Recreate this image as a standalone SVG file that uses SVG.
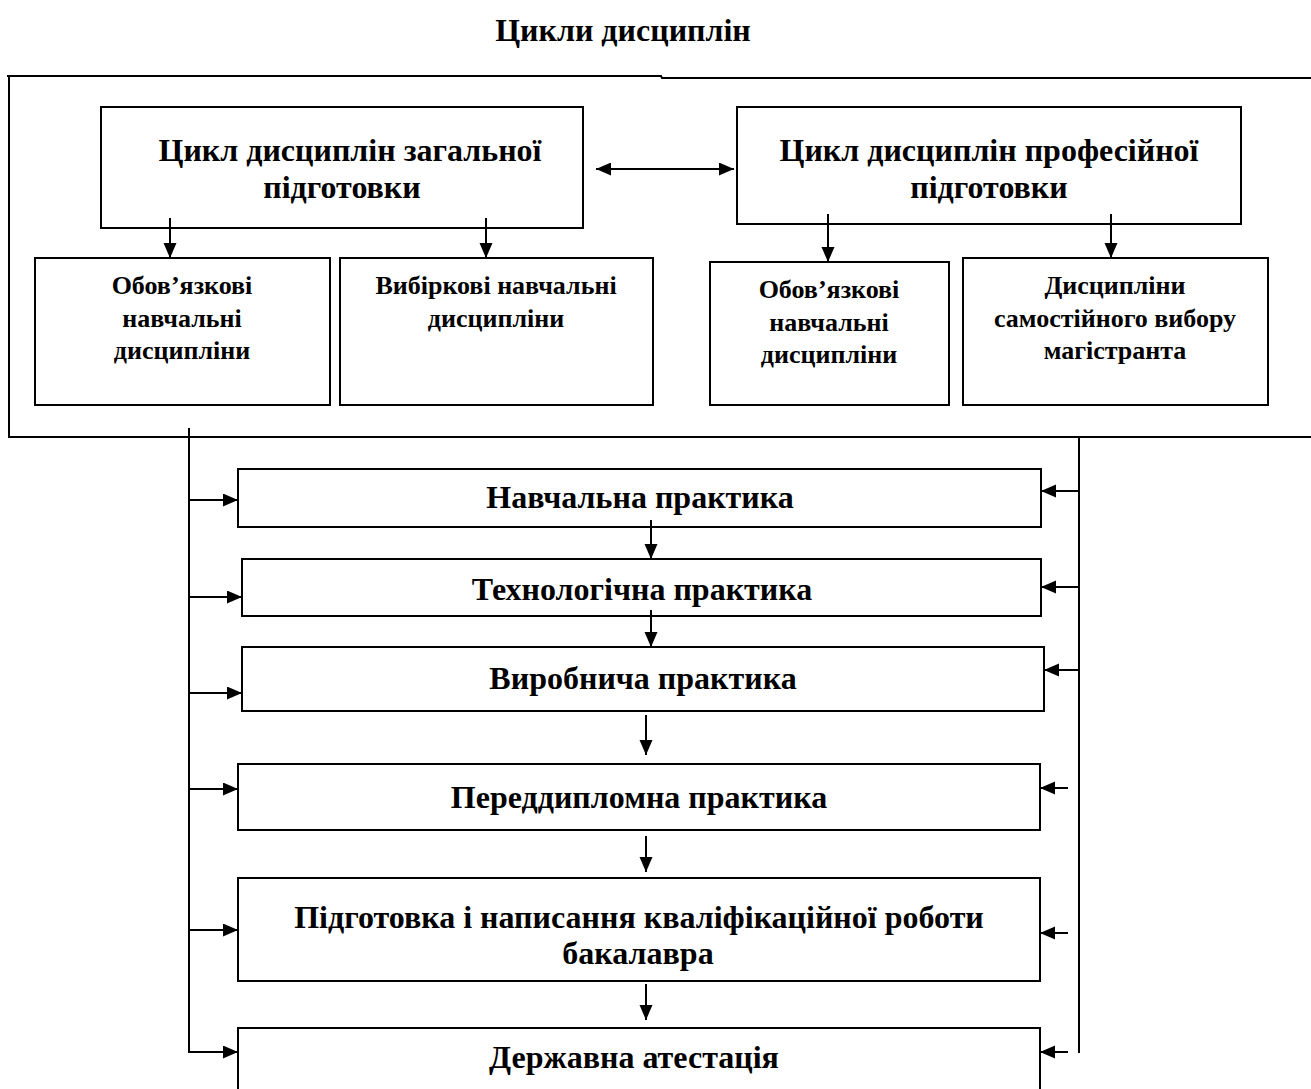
<svg xmlns="http://www.w3.org/2000/svg" width="1311" height="1089" viewBox="0 0 1311 1089">
<style>
.b{fill:#fff;stroke:#000;stroke-width:2}
.l{fill:none;stroke:#000;stroke-width:2}
.t{font-family:"Liberation Serif","Times New Roman",serif;font-weight:bold;text-anchor:middle;fill:#000}
.big{font-size:32px}
.sm{font-size:26px}
.ar{marker-end:url(#ah)}
</style>
<defs>
<marker id="ah" markerUnits="userSpaceOnUse" markerWidth="16" markerHeight="14" refX="15" refY="6.5" orient="auto">
<path d="M0,0 L15,6.5 L0,13 z" fill="#000"/>
</marker>
<marker id="ahs" markerUnits="userSpaceOnUse" markerWidth="16" markerHeight="14" refX="0" refY="6.5" orient="auto">
<path d="M15,0 L0,6.5 L15,13 z" fill="#000"/>
</marker>
</defs>
<rect width="1311" height="1089" fill="#fff"/>
<text class="t" x="623" y="41" style="font-size:32px">Цикли дисциплін</text>
<g id="frame">
<polyline class="l" points="7,76 661,76 662,78 1311,78"/>
<polyline class="l" points="9,76 9,437 1311,437"/>
</g>
<g id="general">
<rect class="b" x="101" y="107" width="482" height="121"/>
<text class="t big" x="350" y="161">Цикл дисциплін загальної</text>
<text class="t big" x="342" y="198">підготовки</text>
</g>
<g id="professional">
<rect class="b" x="737" y="107" width="504" height="117"/>
<text class="t big" x="989" y="161">Цикл дисциплін професійної</text>
<text class="t big" x="989" y="198">підготовки</text>
</g>
<g id="g-mandatory">
<rect class="b" x="35" y="258" width="295" height="147"/>
<text class="t sm" x="182" y="294">Обов’язкові</text>
<text class="t sm" x="182" y="327">навчальні</text>
<text class="t sm" x="182" y="359">дисципліни</text>
</g>
<g id="g-elective">
<rect class="b" x="340" y="258" width="313" height="147"/>
<text class="t sm" x="496" y="294">Вибіркові навчальні</text>
<text class="t sm" x="496" y="327">дисципліни</text>
</g>
<g id="p-mandatory">
<rect class="b" x="710" y="262" width="239" height="143"/>
<text class="t sm" x="829" y="298">Обов’язкові</text>
<text class="t sm" x="829" y="331">навчальні</text>
<text class="t sm" x="829" y="363">дисципліни</text>
</g>
<g id="p-free">
<rect class="b" x="963" y="258" width="305" height="147"/>
<text class="t sm" x="1115" y="294">Дисципліни</text>
<text class="t sm" x="1115" y="327">самостійного вибору</text>
<text class="t sm" x="1115" y="359">магістранта</text>
</g>
<g id="practice1">
<rect class="b" x="238" y="469" width="803" height="58"/>
<text class="t big" x="640" y="508">Навчальна практика</text>
</g>
<g id="practice2">
<rect class="b" x="242" y="559" width="799" height="57"/>
<text class="t big" x="642" y="600">Технологічна практика</text>
</g>
<g id="practice3">
<rect class="b" x="242" y="647" width="802" height="64"/>
<text class="t big" x="643" y="689">Виробнича практика</text>
</g>
<g id="practice4">
<rect class="b" x="238" y="764" width="802" height="66"/>
<text class="t big" x="639" y="808">Переддипломна практика</text>
</g>
<g id="thesis">
<rect class="b" x="238" y="878" width="802" height="103"/>
<text class="t big" x="639" y="928">Підготовка і написання кваліфікаційної роботи</text>
<text class="t big" x="638" y="964">бакалавра</text>
</g>
<g id="attestation">
<rect class="b" x="238" y="1028" width="802" height="70"/>
<text class="t big" x="634" y="1068">Державна атестація</text>
</g>
<g id="connectors">
<line class="l" x1="596" y1="169" x2="734" y2="169" marker-start="url(#ahs)" marker-end="url(#ah)"/>
<line class="l ar" x1="170" y1="218" x2="170" y2="258"/>
<line class="l ar" x1="486" y1="218" x2="486" y2="258"/>
<line class="l ar" x1="828" y1="214" x2="828" y2="262"/>
<line class="l ar" x1="1111" y1="214" x2="1111" y2="258"/>
<line class="l" x1="189" y1="428" x2="189" y2="1053"/>
<line class="l" x1="1079" y1="437" x2="1079" y2="1053"/>
<line class="l ar" x1="189" y1="500" x2="238" y2="500"/>
<line class="l ar" x1="189" y1="597" x2="242" y2="597"/>
<line class="l ar" x1="189" y1="693" x2="242" y2="693"/>
<line class="l ar" x1="189" y1="789" x2="238" y2="789"/>
<line class="l ar" x1="189" y1="930" x2="238" y2="930"/>
<line class="l ar" x1="189" y1="1052" x2="238" y2="1052"/>
<line class="l ar" x1="1079" y1="491" x2="1041" y2="491"/>
<line class="l ar" x1="1079" y1="587" x2="1041" y2="587"/>
<line class="l ar" x1="1079" y1="670" x2="1044" y2="670"/>
<line class="l ar" x1="1068" y1="788" x2="1040" y2="788"/>
<line class="l ar" x1="1068" y1="933" x2="1040" y2="933"/>
<line class="l ar" x1="1068" y1="1052" x2="1040" y2="1052"/>
<line class="l ar" x1="651" y1="520" x2="651" y2="559"/>
<line class="l ar" x1="651" y1="610" x2="651" y2="647"/>
<line class="l ar" x1="646" y1="715" x2="646" y2="755"/>
<line class="l ar" x1="646" y1="836" x2="646" y2="872"/>
<line class="l ar" x1="646" y1="984" x2="646" y2="1020"/>
</g>
</svg>
